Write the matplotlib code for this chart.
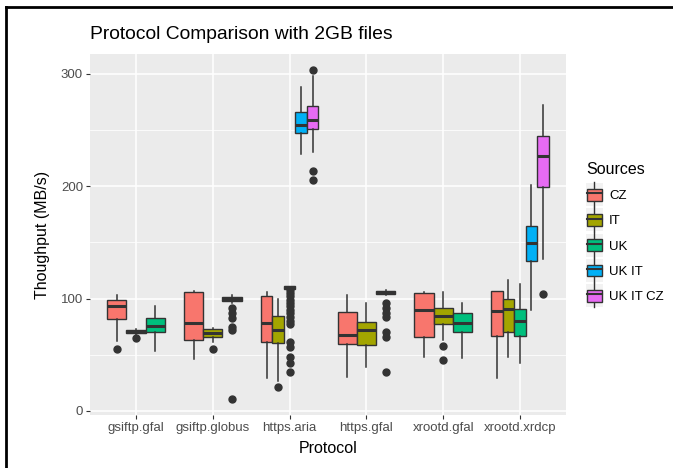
import matplotlib
matplotlib.use('Agg')
import matplotlib.pyplot as plt
from matplotlib.legend_handler import HandlerBase
from matplotlib.patches import Rectangle
from matplotlib.lines import Line2D

plt.rcParams['font.family'] = ['Liberation Sans', 'DejaVu Sans']

protocols = ['gsiftp.gfal', 'gsiftp.globus', 'https.aria', 'https.gfal', 'xrootd.gfal', 'xrootd.xrdcp']
sources = ['CZ', 'IT', 'UK', 'UK IT', 'UK IT CZ']
colors = ['#F8766D', '#A3A500', '#00BF7D', '#00B0F6', '#E76BF3']

# rows = sources, columns = protocols (None = no data)
median = [
    [93.5, 78.6, 78.0, 67.7, 90.0, 88.5],
    [70.5, 69.7, 72.0, 72.0, 84.6, 90.5],
    [75.7, 99.5, 110.0, 106.0, 78.0, 80.4],
    [None, None, 254.7, None, None, 149.3],
    [None, None, 259.0, None, None, 226.5],
]
q1 = [
    [82.0, 63.0, 61.0, 59.4, 65.6, 67.0],
    [69.0, 66.0, 60.3, 58.8, 77.5, 70.6],
    [70.6, 98.0, 108.5, 104.5, 70.0, 67.0],
    [None, None, 247.0, None, None, 133.0],
    [None, None, 250.8, None, None, 199.0],
]
q3 = [
    [99.0, 105.7, 102.4, 87.8, 104.8, 106.9],
    [72.0, 73.0, 84.6, 79.5, 91.4, 99.4],
    [83.0, 101.0, 111.0, 107.0, 87.0, 90.8],
    [None, None, 266.0, None, None, 164.7],
    [None, None, 271.6, None, None, 245.0],
]
whislo = [
    [62.0, 46.0, 29.0, 30.5, 48.4, 29.0],
    [68.0, 61.0, 27.0, 39.5, 63.2, 48.4],
    [53.5, 96.0, 107.0, 103.5, 47.0, 43.0],
    [None, None, 228.6, None, None, 90.0],
    [None, None, 230.0, None, None, 135.3],
]
whishi = [
    [103.0, 107.0, 106.0, 103.0, 106.0, 107.0],
    [73.0, 74.0, 100.0, 96.0, 105.7, 116.7],
    [93.5, 103.0, 111.5, 107.7, 96.0, 112.8],
    [None, None, 288.0, None, None, 201.0],
    [None, None, 298.0, None, None, 272.5],
]
outliers = [
    [[55], [], [], [], [], []],
    [[65], [55], [21.6], [], [58, 45], []],
    [[], [92, 87, 83, 75, 72, 11],
     [108, 105, 102, 99, 96, 93, 90, 87, 84, 80, 77, 61, 57, 48, 42.5, 35],
     [96, 91.4, 87, 84, 70.6, 66, 35], [], []],
    [[], [], [], [], [], []],
    [[], [], [303, 213.7, 205.7], [], [], [104]],
]

fig = plt.figure(figsize=(6.73, 4.68), dpi=100)
ax = fig.add_axes([90 / 673, 1 - 415 / 468, 476 / 673, 361 / 468])
ax.set_facecolor('#EBEBEB')

total_w = 0.75
for j, proto in enumerate(protocols):
    present = [i for i in range(len(sources)) if median[i][j] is not None]
    n = len(present)
    w = total_w / n
    for k, i in enumerate(present):
        pos = j + 1 - total_w / 2 + w * (k + 0.5)
        stats = [dict(med=median[i][j], q1=q1[i][j], q3=q3[i][j],
                      whislo=whislo[i][j], whishi=whishi[i][j],
                      fliers=outliers[i][j])]
        ax.bxp(stats, positions=[pos], widths=w, patch_artist=True,
               showcaps=False, manage_ticks=False,
               boxprops=dict(facecolor=colors[i], edgecolor='#333333', linewidth=1.0),
               medianprops=dict(color='#333333', linewidth=2.2, solid_capstyle='butt'),
               whiskerprops=dict(color='#333333', linewidth=1.1),
               flierprops=dict(marker='o', markerfacecolor='#333333',
                               markeredgecolor='#333333', markersize=5),
               zorder=3)

ax.set_xlim(0.4, 6.6)
ax.set_ylim(-3.6, 317.6)
ax.set_xticks(range(1, len(protocols) + 1))
ax.set_xticklabels(protocols)
ax.set_yticks([0, 100, 200, 300])
ax.set_yticks([50, 150, 250], minor=True)
ax.set_xticks([], minor=True)
ax.grid(which='major', color='white', linewidth=1.1, zorder=0)
ax.grid(which='minor', axis='y', color='white', linewidth=0.55, zorder=0)
ax.set_axisbelow(True)
for s in ax.spines.values():
    s.set_visible(False)
ax.tick_params(which='major', length=3, color='#333333', labelcolor='#4D4D4D', labelsize=9.5, pad=2)
ax.tick_params(which='minor', length=0)

ax.set_xlabel('Protocol', fontsize=11.5, color='black', labelpad=5)
ax.set_ylabel('Thoughput (MB/s)', fontsize=11.5, color='black', labelpad=8)
ax.set_title('Protocol Comparison with 2GB files', fontsize=13.9, loc='left', pad=11)


class BoxHandler(HandlerBase):
    def create_artists(self, legend, orig_handle, xdescent, ydescent, width, height, fontsize, trans):
        cx = xdescent + width / 2
        bg = Rectangle((-xdescent, -ydescent - 4), width, height + 8, facecolor='#F2F2F2',
                       edgecolor='none', transform=trans)
        wl = Line2D([cx, cx], [-ydescent - 4, height + 4], color='#333333', lw=1.0, transform=trans)
        box = Rectangle((-xdescent + 1, -ydescent), width - 2, height,
                        facecolor=orig_handle.get_facecolor(), edgecolor='#333333', lw=1.0, transform=trans)
        med = Line2D([-xdescent + 1, width - 1], [height / 2, height / 2], color='#333333',
                     lw=1.5, transform=trans)
        return [bg, wl, box, med]


handles = [Rectangle((0, 0), 1, 1, facecolor=c) for c in colors]
leg = fig.legend(handles, sources, title='Sources', handler_map={Rectangle: BoxHandler()},
                 loc='upper left', bbox_to_anchor=(574 / 673, 1 - 150 / 468),
                 frameon=False, fontsize=9.5, title_fontsize=11.5,
                 handlelength=1.3, handleheight=1.0, labelspacing=0.9, handletextpad=0.45)
leg._legend_box.align = 'left'

# outer frame of the screenshot
fig.add_artist(Line2D([6 / 673, 6 / 673], [0, 1 - 7 / 468], color='black', lw=2, transform=fig.transFigure))
fig.add_artist(Line2D([6 / 673, 1], [1 - 7 / 468, 1 - 7 / 468], color='black', lw=2, transform=fig.transFigure))

fig.savefig('out.png', dpi=100)
